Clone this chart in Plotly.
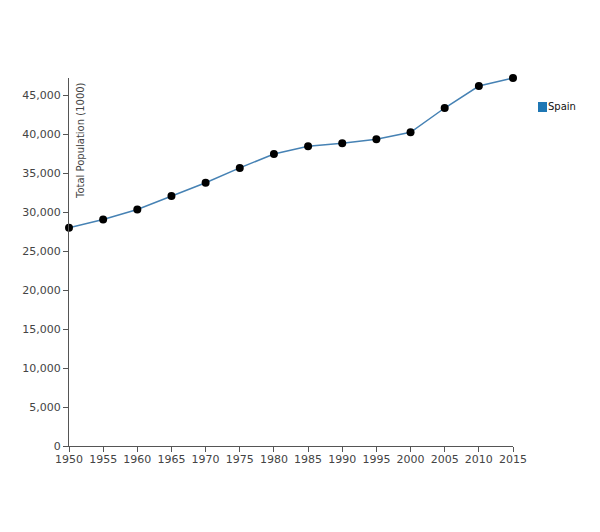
import plotly.graph_objects as go

years = [1950, 1955, 1960, 1965, 1970, 1975, 1980, 1985, 1990, 1995, 2000, 2005, 2010, 2015]
population = [28000, 29070, 30350, 32090, 33780, 35680, 37470, 38460, 38850, 39360, 40260, 43370, 46190, 47220]
series_name = "Spain"
y_ticks = list(range(0, 50000, 5000))
x_ticks = years

font_family = "Verdana, 'DejaVu Sans', sans-serif"

fig = go.Figure()
fig.add_trace(go.Scatter(
    x=years, y=population, mode="lines+markers", name=series_name,
    line=dict(color="#4682b4", width=1.5),
    marker=dict(color="black", size=8),
    cliponaxis=False, showlegend=False,
))

fig.update_layout(
    width=600, height=532,
    margin=dict(l=69, r=87, t=78, b=86),
    paper_bgcolor="white", plot_bgcolor="white",
    font=dict(family=font_family, size=11, color="#444"),
    xaxis=dict(range=[min(years), max(years)], tickmode="array", tickvals=x_ticks,
               ticktext=[str(v) for v in x_ticks],
               showline=True, linecolor="#555", linewidth=1, ticks="outside",
               ticklen=5, tickcolor="#555", showgrid=False, zeroline=False,
               ticklabelstandoff=-2),
    yaxis=dict(range=[0, max(population)], tickmode="array", tickvals=y_ticks,
               ticktext=[f"{v:,}" for v in y_ticks],
               showline=True, linecolor="#555", linewidth=1, ticks="outside",
               ticklen=5, tickcolor="#555", showgrid=False, zeroline=False),
    showlegend=False,
)

fig.add_annotation(
    text="Total Population (1000)", textangle=-90,
    xref="paper", yref="paper", x=0, y=1, xanchor="left", yanchor="top",
    xshift=4, yshift=-2, showarrow=False, font=dict(family=font_family, size=10, color="#444"),
)

# legend swatch and label
fig.add_shape(type="rect", xref="paper", yref="paper",
              x0=(538 - 69) / 444, x1=(547 - 69) / 444,
              y0=(446 - 112) / 368, y1=(446 - 102) / 368,
              fillcolor="#1f77b4", line=dict(width=0))
fig.add_annotation(
    text=series_name, xref="paper", yref="paper",
    x=(546 - 69) / 444, y=(446 - 107) / 368, xanchor="left", yanchor="middle",
    showarrow=False, font=dict(family=font_family, size=10, color="#111"),
)

fig.write_html("out.html")
